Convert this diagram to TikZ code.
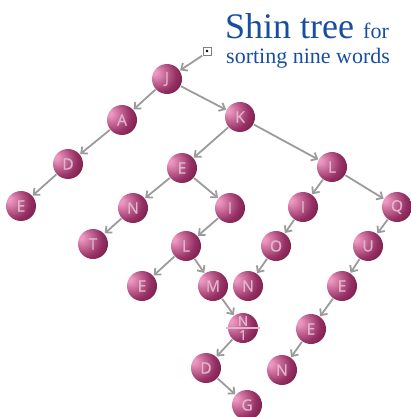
\documentclass[tikz,border=0pt]{standalone}
\usepackage{fontspec}
\setmainfont{Liberation Serif}
\newfontfamily\ballfont[FakeBold=0.8]{Open Sans}
\usetikzlibrary{arrows.meta}
\definecolor{berryhi}{RGB}{236,150,192}
\definecolor{berrymid}{RGB}{150,48,100}
\definecolor{berrydark}{RGB}{86,12,48}
\definecolor{lettercol}{RGB}{224,180,205}
\definecolor{arrgray}{RGB}{155,155,155}
\definecolor{titleblue}{RGB}{24,78,160}
\pgfdeclareradialshading{berry}{\pgfpoint{-22bp}{12bp}}{%
  color(0bp)=(berryhi); color(4bp)=(berryhi); color(28bp)=(berrymid);
  color(50bp)=(berrydark); color(70bp)=(berrydark)}

\begin{document}
\begin{tikzpicture}[
  x=1pt, y=-1pt,
  ball/.style  = {circle, shading=berry, minimum size=30pt, inner sep=0pt,
                  text=lettercol, font=\ballfont\fontsize{15.5}{15.5}\selectfont},
  arr/.style   = {-{Straight Barb[length=5pt, width=9pt]}, line width=1.8pt, draw=arrgray,
                  shorten >=0.5pt, shorten <=0.5pt},
  divider/.style = {draw=lettercol, line width=1.4pt},
]
  \useasboundingbox (0,0) rectangle (410,417);
  % title
  \node[anchor=base west, inner sep=0pt, text=titleblue] (title) at (225,39)
    {\fontsize{36}{36}\selectfont Shin tree \fontsize{22}{22}\selectfont for};
  \node[anchor=base west, inner sep=0pt, text=titleblue] (subtitle) at (226,64)
    {\fontsize{22}{22}\selectfont sorting nine words};
  % root pointer
  \node[draw=gray, fill=white, minimum size=8pt, inner sep=0pt, line width=0.8pt] (root) at (207,51) {};
  \fill (root.center) circle (1.4);
  % tree nodes
  \node[ball] (J)  at (167,79)  {J};
  \node[ball] (A)  at (122,120) {A};
  \node[ball] (K)  at (240,117) {K};
  \node[ball] (D1) at (68,164)  {D};
  \node[ball] (E1) at (21,206)  {E};
  \node[ball] (E2) at (182,168) {E};
  \node[ball] (L1) at (332,167) {L};
  \node[ball] (N1) at (133,208) {N};
  \node[ball] (I1) at (230,208) {I};
  \node[ball] (I2) at (303,207) {I};
  \node[ball] (Q)  at (397,207) {Q};
  \node[ball] (T)  at (93,244)  {T};
  \node[ball] (L2) at (186,246) {L};
  \node[ball] (O)  at (276,246) {O};
  \node[ball] (U)  at (368,246) {U};
  \node[ball] (E3) at (142,286) {E};
  \node[ball] (M)  at (213,286) {M};
  \node[ball] (N2) at (248,286) {N};
  \node[ball] (E4) at (342,286) {E};
  \node[ball, align=center, font=\ballfont\fontsize{13.5}{14}\selectfont] (N3) at (243,328) {N\\[0pt]1};
  \draw[divider] ([xshift=-1.5pt]N3.west) -- ([xshift=1.5pt]N3.east);
  \node[ball] (E5) at (311,329) {E};
  \node[ball] (D2) at (206,368) {D};
  \node[ball] (N4) at (282,370) {N};
  \node[ball] (G)  at (247,405) {G};
  % links
  \draw[arr] (root.south west) -- (J);
  \foreach \a/\b in {J/A,J/K,A/D1,D1/E1,K/E2,K/L1,E2/N1,E2/I1,N1/T,I1/L2,L2/E3,L2/M,
                     M/N3,N3/D2,D2/G,L1/I2,L1/Q,I2/O,O/N2,Q/U,U/E4,E4/E5,E5/N4}
    \draw[arr] (\a) -- (\b);
\end{tikzpicture}
\end{document}
